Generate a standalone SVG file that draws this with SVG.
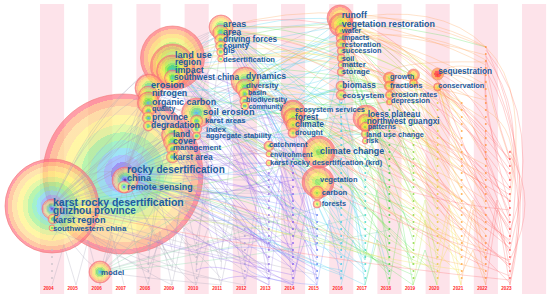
<svg xmlns="http://www.w3.org/2000/svg" width="550" height="298" viewBox="0 0 550 298">
<defs>
<style>
.s{fill:#fde3ea}
.t{font-family:"Liberation Sans",Arial,sans-serif;font-weight:bold;fill:#1d5c9e}
.y{font-family:"Liberation Sans",Arial,sans-serif;font-weight:bold;fill:#ff2a2a;font-size:4.6px;text-anchor:middle}
.n{fill-opacity:.68;stroke:#f07878;stroke-width:.6}
.e path{fill:none;stroke-width:.55;stroke-opacity:.55}
.d line{stroke-linecap:round;stroke-width:2;stroke-dasharray:0 7;stroke-opacity:.85}
</style>
<radialGradient id="gA">
<stop offset="0" stop-color="#4020a0"/><stop offset=".07" stop-color="#4020a0"/>
<stop offset=".07" stop-color="#7060f0"/><stop offset=".15" stop-color="#7060f0"/>
<stop offset=".15" stop-color="#80a8ff"/><stop offset=".24" stop-color="#80a8ff"/>
<stop offset=".24" stop-color="#70d8f0"/><stop offset=".33" stop-color="#70d8f0"/>
<stop offset=".33" stop-color="#78ecb0"/><stop offset=".42" stop-color="#78ecb0"/>
<stop offset=".42" stop-color="#98f088"/><stop offset=".52" stop-color="#98f088"/>
<stop offset=".52" stop-color="#d8f480"/><stop offset=".62" stop-color="#d8f480"/>
<stop offset=".62" stop-color="#fff27c"/><stop offset=".74" stop-color="#fff27c"/>
<stop offset=".74" stop-color="#ffd888"/><stop offset=".85" stop-color="#ffd888"/>
<stop offset=".85" stop-color="#ffb07c"/><stop offset=".94" stop-color="#ffb07c"/>
<stop offset=".94" stop-color="#ff7080"/><stop offset="1" stop-color="#ff7080"/>
</radialGradient>
<radialGradient id="gB">
<stop offset="0" stop-color="#30b0f0"/><stop offset=".1" stop-color="#30b0f0"/>
<stop offset=".1" stop-color="#40d0b0"/><stop offset=".22" stop-color="#40d0b0"/>
<stop offset=".22" stop-color="#60e060"/><stop offset=".36" stop-color="#60e060"/>
<stop offset=".36" stop-color="#b0f050"/><stop offset=".5" stop-color="#b0f050"/>
<stop offset=".5" stop-color="#f0f060"/><stop offset=".63" stop-color="#f0f060"/>
<stop offset=".63" stop-color="#ffd860"/><stop offset=".76" stop-color="#ffd860"/>
<stop offset=".76" stop-color="#ffb070"/><stop offset=".9" stop-color="#ffb070"/>
<stop offset=".9" stop-color="#ff7878"/><stop offset="1" stop-color="#ff7878"/>
</radialGradient>
<radialGradient id="gC">
<stop offset="0" stop-color="#80e040"/><stop offset=".2" stop-color="#80e040"/>
<stop offset=".2" stop-color="#d0f040"/><stop offset=".4" stop-color="#d0f040"/>
<stop offset=".4" stop-color="#ffe050"/><stop offset=".6" stop-color="#ffe050"/>
<stop offset=".6" stop-color="#ffb060"/><stop offset=".82" stop-color="#ffb060"/>
<stop offset=".82" stop-color="#ff7070"/><stop offset="1" stop-color="#ff7070"/>
</radialGradient>
<radialGradient id="gD">
<stop offset="0" stop-color="#c0e840"/><stop offset=".3" stop-color="#c0e840"/>
<stop offset=".3" stop-color="#ffd040"/><stop offset=".65" stop-color="#ffd040"/>
<stop offset=".65" stop-color="#ff9040"/><stop offset="1" stop-color="#ff7050"/>
</radialGradient>
<radialGradient id="gE">
<stop offset="0" stop-color="#ff1010"/><stop offset=".55" stop-color="#ff2020"/>
<stop offset=".55" stop-color="#ff8030"/><stop offset="1" stop-color="#ffb040"/>
</radialGradient>
</defs>

<g id="timeline">
<rect class="s" x="40" y="4" width="24.1" height="290"/>
<rect class="s" x="88.2" y="4" width="24.1" height="290"/>
<rect class="s" x="136.4" y="4" width="24.1" height="290"/>
<rect class="s" x="184.6" y="4" width="24.1" height="290"/>
<rect class="s" x="232.8" y="4" width="24.1" height="290"/>
<rect class="s" x="281" y="4" width="24.1" height="290"/>
<rect class="s" x="329.2" y="4" width="24.1" height="290"/>
<rect class="s" x="377.4" y="4" width="24.1" height="290"/>
<rect class="s" x="425.6" y="4" width="24.1" height="290"/>
<rect class="s" x="473.8" y="4" width="24.1" height="290"/>
<rect class="s" x="522" y="4" width="24.1" height="290"/>
<text class="y" x="48.5" y="289.5">2004</text>
<text class="y" x="72.6" y="289.5">2005</text>
<text class="y" x="96.7" y="289.5">2006</text>
<text class="y" x="120.8" y="289.5">2007</text>
<text class="y" x="144.9" y="289.5">2008</text>
<text class="y" x="169" y="289.5">2009</text>
<text class="y" x="193.1" y="289.5">2010</text>
<text class="y" x="217.2" y="289.5">2011</text>
<text class="y" x="241.3" y="289.5">2012</text>
<text class="y" x="265.4" y="289.5">2013</text>
<text class="y" x="289.5" y="289.5">2014</text>
<text class="y" x="313.6" y="289.5">2015</text>
<text class="y" x="337.7" y="289.5">2016</text>
<text class="y" x="361.8" y="289.5">2017</text>
<text class="y" x="385.9" y="289.5">2018</text>
<text class="y" x="410" y="289.5">2019</text>
<text class="y" x="434.1" y="289.5">2020</text>
<text class="y" x="458.2" y="289.5">2021</text>
<text class="y" x="482.3" y="289.5">2022</text>
<text class="y" x="506.4" y="289.5">2023</text>
</g>

<g id="big-nodes">
<g id="n-rocky-desertification"><circle class="n" cx="123" cy="174" r="80" fill="url(#gA)" fill-opacity=".58" stroke="#f06a80" stroke-width="2.5"/></g>
<g id="n-karst-rocky-desertification"><circle class="n" cx="52" cy="206" r="47" fill="url(#gA)" fill-opacity=".6" stroke="#ff44ff" stroke-width="1.6"/></g>
</g>

<g id="connectors" class="e">
<path stroke="#a8a4b8" d="M52 206Q88 160 124 175M52 206Q90 120 148 92M52 206Q100 90 172 60M52 206Q120 130 196 115M52 206Q120 60 221 28M52 206Q150 110 245 83M52 206Q150 200 269 146M52 206Q70 250 100 272M52 206Q140 250 196 255M52 206Q130 270 221 280M124 175Q128 120 148 92M124 175Q140 90 172 60M124 175Q160 140 196 115M124 175Q160 70 221 28M124 175Q180 100 245 83M124 175Q190 170 269 146M124 175Q200 120 293 115M124 175Q220 150 317 152M124 175Q220 60 341 20M124 175Q250 110 365 120M124 175Q130 240 148 285M124 175Q150 230 172 268M124 175Q170 220 196 258M124 175Q185 240 221 278M124 175Q200 210 245 245M124 175Q210 200 269 225M148 92Q160 75 172 60M148 92Q180 50 221 28M172 60Q200 35 221 28M172 60Q215 65 245 83M148 125Q165 135 172 157M172 157Q185 135 196 115M196 115Q215 95 245 83M196 138Q235 135 269 146M148 285L160 232L172 285M172 285L184 228L196 285M196 285L208 240L221 285M221 285L233 226L245 285M100 272Q150 190 196 115M100 272Q180 245 269 232M148 250L160 200L172 250M172 245L184 195L196 248M196 240L208 190L221 258M221 250L233 205L245 265M148 265Q160 150 172 134M172 270Q185 150 196 129M196 270Q210 120 221 45M221 270Q230 110 245 100M52 210Q100 170 148 104M52 214Q120 160 172 72M124 180Q160 150 221 52M124 187Q170 160 245 94M76 285L88 240L100 285M100 285L112 235L124 285M52 285L64 245L76 285"/>
<path stroke="#a8a4b8" d="M124 175L148 104M124 175L148 111M124 175L148 118M124 175L148 126M124 175L172 135M124 175L172 142M124 175L172 149M124 175L196 121M124 175L196 129M124 175Q170 60 221 33M124 175Q175 80 221 40M124 175Q190 110 245 88M124 175Q195 120 245 101M52 206L148 118M52 206L172 142M52 206Q130 140 196 129M52 206Q140 120 221 46M52 206Q160 150 245 94M52 206L124 187M52 206Q90 190 124 180M100 272L124 187M100 272Q130 220 148 126M100 272Q150 240 172 157M148 92L172 134M148 104L196 113M172 71L196 113M172 71L221 33M172 78L245 81M196 113L221 27M148 88Q190 150 245 229M52 240L76 200L100 250M124 175L148 88M124 175L172 66M124 175L196 136M124 175L172 157M52 206L148 96M52 206L172 135M52 206L196 121"/>
<path stroke="#a8a4b8" d="M52 206Q120 260 172 285M52 206Q150 270 245 285M124 175Q170 270 196 285M124 175Q220 260 269 285M52 230Q110 250 148 270M100 272Q160 280 221 285M148 270L160 240L172 262M196 262L208 228L221 262M124 180Q200 190 269 200M124 180Q210 215 269 275M124 180Q220 200 293 190M124 180Q230 230 293 250M124 180Q250 240 317 262M124 180Q260 220 341 240M52 206Q180 230 293 215M52 206Q200 250 317 275M124 175Q160 160 196 150M124 175Q180 180 245 180M124 175Q200 190 269 192"/>
<path stroke="#78d8a0" d="M100 272Q200 220 293 160M100 272Q220 240 341 200M100 272Q250 260 389 230M100 272Q180 200 269 180M100 272Q230 250 365 215"/>
<path stroke="#a88ce8" d="M245 83Q270 95 293 115M221 28Q260 60 293 115M172 60Q240 85 293 118M148 92Q220 105 293 125M196 115Q235 125 269 146M124 175Q200 150 269 154M52 206Q160 165 269 163M245 285L257 218L269 285M245 265L257 200L269 270M269 285L281 196L293 285M52 206Q170 250 269 265M124 175Q215 230 293 268M124 175Q200 255 293 282M148 92Q230 170 269 200M172 60Q240 150 269 185M196 115Q250 190 293 230M221 28Q270 140 293 180M245 83Q280 170 293 200M172 72Q230 120 269 176M196 121Q240 170 269 210M148 110Q210 200 269 248M293 112Q250 60 221 33M293 118Q240 80 172 66M293 125Q220 90 148 96M293 133Q240 140 172 135M269 146Q220 90 172 78M269 154Q200 130 148 118M269 163Q200 160 124 180M293 112Q260 40 221 27M317 152Q250 90 172 71M317 182Q260 130 196 121M317 193Q230 170 148 126M245 250L257 240L269 262"/>
<path stroke="#8658f0" d="M293 285L305 215L317 280M269 250L281 175L293 255M293 240L305 190L317 250M293 270Q220 190 124 175M293 260Q200 200 124 178M293 250Q180 160 148 92M293 230Q240 110 172 60M293 220Q260 140 196 115M293 200Q270 100 221 28M269 270Q200 220 124 180M269 240Q190 170 148 110M269 220Q220 120 172 70M293 180Q200 200 52 206M293 275Q170 250 52 210M317 270Q230 220 124 175M317 260Q250 150 196 115M317 250Q280 120 245 83M317 240Q260 70 221 28M269 200L281 160L293 200M293 160Q300 140 293 125M293 210Q250 180 196 136M293 190Q250 160 172 142M269 180Q230 200 172 157M293 245Q240 230 196 250"/>
<path stroke="#8658f0" d="M269 280Q190 210 148 92M269 260Q200 160 172 60M269 250Q230 140 221 28M269 230Q240 150 196 115M293 285Q180 220 52 206M293 265Q210 160 148 104M293 255Q230 120 172 71M293 235Q230 190 124 187M293 215Q270 120 245 83M293 205Q200 150 148 118M269 195Q200 170 124 175M269 175L281 150L293 170M293 275L305 240L317 285M269 285Q220 260 196 270M293 285Q250 270 221 280"/>
<path stroke="#6f88ff" d="M317 285Q230 200 124 175M317 230Q220 100 172 60M317 220Q300 140 293 115M341 280L329 220L317 285M317 152Q270 110 245 83M317 152Q250 60 221 28M317 180Q220 170 124 175M317 180Q240 120 196 115M317 152Q200 110 148 92M317 265Q260 240 221 250M317 245Q290 200 269 163M317 275Q230 230 148 118M317 255Q230 130 172 60M317 235Q280 110 221 40M317 215Q250 190 124 187M317 225Q300 170 293 133M317 285Q250 280 245 265"/>
<path stroke="#48cfef" d="M341 20Q280 30 221 28M341 26Q260 40 172 60M341 33Q280 60 245 83M341 40Q260 80 196 115M341 46Q220 100 148 92M341 53Q250 110 124 175M341 60Q320 80 293 115M341 67Q330 110 317 152M341 74Q240 110 172 80M341 88Q300 100 293 118M341 97Q330 130 317 180M341 280L353 200L365 285M341 250L353 190L365 260M341 230Q240 190 124 175M341 200Q260 140 196 115M341 180Q280 100 245 83M341 160Q250 60 221 28M341 140Q300 130 293 125M365 285Q250 230 124 178M365 260Q300 160 245 83M365 240Q290 150 196 120M365 220Q330 140 293 115M365 200Q340 160 317 152M365 120Q350 70 341 26M365 180L377 150L389 200M341 120L353 150L365 180M52 206Q200 180 341 150M124 175Q240 110 341 88M341 270Q280 260 269 240M365 270Q330 240 317 204M341 210Q320 200 317 193M341 110Q280 90 245 101"/>
<path stroke="#48cfef" d="M341 275Q230 240 148 92M341 265Q250 170 172 60M341 255Q280 120 221 28M341 245Q300 150 245 88M341 235Q300 140 269 146M341 225Q320 140 293 112M341 215Q330 180 317 152M341 190Q250 200 52 206M341 170Q260 120 172 71M341 150Q300 90 245 81M341 130Q280 60 221 33M365 275Q280 200 172 60M365 265Q260 220 124 175M365 250Q330 120 341 20M365 230Q300 100 221 28M365 210Q330 130 293 118M365 190Q340 110 341 46M365 170Q350 140 341 95M365 160L377 130L389 170M341 285L353 240L365 270M365 285L377 230L389 275"/>
<path stroke="#48cfef" d="M341 20Q300 50 245 94M341 26Q290 70 245 101M341 33Q260 60 196 121M341 40Q250 60 172 66M341 46Q300 90 269 146M341 53Q260 80 221 46M341 60Q280 40 221 40M341 67Q270 80 245 88M341 74Q280 120 196 129M341 86Q260 120 172 142M341 95Q250 90 196 113M341 20Q260 10 172 58M365 118Q300 80 245 83M365 122Q270 60 221 27M365 127Q300 120 245 106M365 134Q280 140 196 136"/>
<path stroke="#58e058" d="M389 78Q360 50 341 26M389 86Q300 70 245 83M389 95Q280 120 196 115M389 101Q250 140 124 175M389 285L401 215L413 285M389 260L377 190L365 260M389 240Q300 150 172 60M389 220Q320 110 221 28M389 200Q340 130 293 115M389 180Q350 150 317 152M389 160Q370 110 341 46M389 140Q380 125 365 120M413 285Q300 200 124 175M413 260Q340 170 245 83M413 240Q380 140 341 33M413 220Q350 170 293 125M413 200Q390 140 365 122M413 75Q380 40 341 20M413 180L401 140L389 160M389 120Q300 180 52 206M413 150Q250 100 148 92M389 270Q360 250 341 230M389 250Q350 220 317 182M389 78Q300 30 221 33M389 86Q280 60 172 71M389 95Q320 80 293 112M389 102Q300 110 245 94M413 75Q300 20 221 27M413 83Q330 90 293 125"/>
<path stroke="#58e058" d="M389 275Q300 180 172 60M389 265Q280 220 124 175M389 255Q330 120 245 83M389 245Q350 90 341 20M389 230Q330 160 293 118M389 210Q370 140 365 118M389 190Q330 90 221 28M389 170Q320 120 245 88M389 150Q340 110 317 152M389 130Q360 110 341 86M413 275Q300 230 148 92M413 265Q370 150 341 26M413 250Q330 170 269 146M413 230Q360 130 293 112M413 210Q300 170 196 115M413 190Q370 120 341 60M413 170Q400 130 389 95M413 160Q380 140 365 127M413 140Q390 100 389 78M413 130Q350 80 245 83M413 110Q400 90 389 86M389 285L377 240L365 285M413 285L425 250L437 285M172 60Q320 -5 485.8 47"/>
<path stroke="#b8e848" d="M413 120Q370 90 341 60M413 100Q340 70 221 28M413 90Q300 40 172 60M437 285L425 220L413 285M437 260L425 200L413 250M437 240Q350 180 196 115M437 220Q380 120 341 26M437 200Q360 140 293 118M437 180Q400 140 365 120M437 160Q410 110 389 86M413 270Q300 220 52 210M245 83Q360 10 437 75M437 270Q390 250 365 240M437 275Q330 180 221 28M437 265Q340 220 172 71M437 250Q400 160 365 118M437 230Q380 140 317 152M437 210Q400 110 389 78M437 190Q360 80 341 40M437 170Q420 130 413 75M437 150Q360 120 293 118M437 130Q420 100 413 83M437 110Q400 60 341 20M437 100Q420 90 389 95"/>
<path stroke="#f0e048" d="M437 75Q400 40 341 20M437 87Q400 92 389 95M461 285L449 215L437 285M461 260L449 205L437 255M461 240Q370 160 245 83M461 220Q400 120 341 40M461 200Q380 150 293 115M461 180Q420 120 365 120M461 160Q440 100 437 75M461 140Q350 40 221 28M461 120Q420 60 389 78M461 270Q300 250 124 178M437 120Q330 20 172 60M461 110Q380 30 341 26M172 60Q330 0 461 110M461 250Q420 220 389 200M461 275Q380 200 317 152M461 265Q360 150 341 26M461 255Q380 180 293 115M461 245Q320 140 221 28M461 230Q420 150 389 86M461 210Q420 110 341 60M461 190Q440 130 413 75M461 170Q380 100 245 83M461 150Q420 130 389 101M461 130Q440 100 437 87M461 285L449 245L437 270M461 102Q420 50 341 20M148 92Q300 10 461 102"/>
<path stroke="#ffa050" d="M485.8 47Q420 10 341 20M485.8 55Q360 20 221 28M485.8 62Q380 60 389 78M485.8 70Q450 60 437 75M485.8 285L473 210L461 285M485.8 260L473 200L461 250M485.8 240Q380 150 245 83M485.8 220Q400 110 341 26M485.8 200Q400 140 317 152M485.8 180Q420 120 365 120M485.8 160Q450 100 437 87M485.8 140Q430 80 389 86M485.8 120Q370 40 172 60M485.8 100Q400 80 341 60M485.8 90Q460 70 437 75M485.8 270Q350 240 124 175M485.8 250Q300 180 196 115M461 230Q360 180 293 125M461 200Q340 100 245 83M485.8 80L497 120L509.9 160M485.8 110Q520 130 509.9 180M485.8 47Q530 90 509.9 200M221 28Q350 -10 485.8 47M485.8 230Q440 200 413 160M485.8 190Q460 160 437 120M245 83Q380 0 485.8 60M341 20Q440 0 485.8 47"/>
<path stroke="#ffa050" d="M485.8 275Q400 160 341 26M485.8 265Q380 200 293 118M485.8 255Q400 150 365 120M485.8 245Q430 150 413 75M485.8 235Q380 90 221 28M485.8 225Q430 140 389 78M485.8 215Q350 130 245 83M485.8 205Q440 110 437 74M485.8 195Q380 80 341 40M485.8 185Q440 160 413 130M485.8 175Q420 140 389 120M485.8 165Q360 100 317 152M485.8 150Q440 60 341 20M485.8 130Q450 90 413 83M485.8 110Q450 80 437 87M485.8 100Q420 50 341 26M485.8 85Q410 40 341 33M485.8 75Q450 70 437 74M485.8 65Q420 30 341 20M485.8 285L473 250L461 275"/>
<path stroke="#ff6a6a" d="M509.9 285L497 210L485.8 285M509.9 270L497 200L485.8 260M509.9 250Q420 120 341 26M509.9 240Q400 160 245 83M509.9 230Q440 130 389 78M509.9 220Q470 100 437 75M509.9 210Q400 200 317 152M509.9 200Q430 150 365 120M509.9 190Q350 60 221 28M509.9 180Q480 120 485.8 70M509.9 170Q400 20 341 20M509.9 160Q450 90 413 75M509.9 260Q360 220 148 92M509.9 280Q300 260 52 206M509.9 155Q540 200 509.9 260M485.8 50Q545 120 509.9 250M485.8 60Q540 170 509.9 275M509.9 150Q530 180 509.9 230M509.9 265Q460 230 437 200M509.9 245Q470 200 461 160M509.9 225Q480 170 485.8 130M221 28Q380 -15 509.9 160"/>
<path stroke="#ff6a6a" d="M509.9 283Q420 200 341 26M509.9 276Q380 230 245 83M509.9 268Q440 200 389 78M509.9 262Q420 210 365 120M509.9 255Q460 140 437 74M509.9 248Q420 170 317 152M509.9 242Q380 120 293 115M509.9 235Q430 60 341 20M509.9 228Q470 170 413 75M509.9 222Q450 140 389 86M509.9 215Q480 140 461 120M509.9 208Q480 100 485.8 62M509.9 202Q420 90 341 46M509.9 195Q450 160 437 87M509.9 188Q460 110 413 83M509.9 175Q420 60 221 28M509.9 165Q470 80 437 74M509.9 158Q490 100 485.8 55M485.8 47Q535 150 509.9 285M485.8 56Q525 110 509.9 190M485.8 70Q528 140 509.9 240M509.9 160Q528 210 509.9 285"/>
</g>

<g id="minor-nodes" class="d">
<line x1="52" y1="250" x2="52" y2="285" stroke="#c8c0c8"/>
<line x1="148.4" y1="236" x2="148.4" y2="285" stroke="#c0b8c8"/>
<line x1="196.6" y1="236" x2="196.6" y2="285" stroke="#c0b8c8"/>
<line x1="244.8" y1="229" x2="244.8" y2="285" stroke="#b0a0d8"/>
<line x1="268.9" y1="173" x2="268.9" y2="285" stroke="#9070e0"/>
<line x1="293" y1="145" x2="293" y2="285" stroke="#7f58f0"/>
<line x1="317.1" y1="215" x2="317.1" y2="285" stroke="#6080f0"/>
<line x1="341.2" y1="103" x2="341.2" y2="285" stroke="#40c8e8"/>
<line x1="365.3" y1="152" x2="365.3" y2="285" stroke="#40d8c8"/>
<line x1="389.4" y1="110" x2="389.4" y2="285" stroke="#40d040"/>
<line x1="413.5" y1="96" x2="413.5" y2="285" stroke="#88d840"/>
<line x1="437.6" y1="103" x2="437.6" y2="285" stroke="#e8c840"/>
<line x1="461.7" y1="103" x2="461.7" y2="285" stroke="#ffa840"/>
<line x1="485.8" y1="47" x2="485.8" y2="285" stroke="#ff9040"/>
<line x1="509.9" y1="152" x2="509.9" y2="285" stroke="#ff5050"/>
</g>

<g id="nodes">
<g id="n-guizhou-province"><circle class="n" cx="52" cy="209" r="10" fill="url(#gA)" fill-opacity=".5"/></g>
<g id="n-karst-region"><circle class="n" cx="53" cy="219" r="5" fill="url(#gB)"/></g>
<g id="n-southwestern-china"><circle class="n" cx="52" cy="228" r="3" fill="url(#gB)"/></g>
<g id="n-china"><circle class="n" cx="125" cy="180" r="13" fill="url(#gA)" stroke="#c07050" stroke-width="1.3"/></g>
<g id="n-remote-sensing"><circle class="n" cx="124" cy="187" r="6" fill="url(#gA)" stroke="#c07050"/></g>
<g id="n-model"><circle class="n" cx="100" cy="272" r="11" fill="url(#gB)" stroke="#e08050" stroke-width="1"/></g>
<g id="n-land-use"><circle class="n" cx="172.5" cy="58" r="32" fill="url(#gB)" fill-opacity=".58"/></g>
<g id="n-region"><circle class="n" cx="172.5" cy="66" r="22" fill="url(#gB)" fill-opacity=".6"/></g>
<g id="n-impact"><circle class="n" cx="172.5" cy="71" r="16" fill="url(#gB)" fill-opacity=".62"/></g>
<g id="n-southwest-china"><circle class="n" cx="172.5" cy="78" r="8" fill="url(#gB)"/></g>
<g id="n-erosion"><circle class="n" cx="149" cy="88" r="14" fill="url(#gB)"/></g>
<g id="n-nitrogen"><circle class="n" cx="148.4" cy="96" r="10" fill="url(#gB)"/></g>
<g id="n-organic-carbon"><circle class="n" cx="148.4" cy="103" r="11" fill="url(#gB)"/></g>
<g id="n-quality"><circle class="n" cx="148.4" cy="111" r="6" fill="url(#gB)"/></g>
<g id="n-province"><circle class="n" cx="148.4" cy="118" r="6" fill="url(#gB)"/></g>
<g id="n-degradation"><circle class="n" cx="148.4" cy="126" r="5" fill="url(#gB)"/></g>
<g id="n-land"><circle class="n" cx="172.5" cy="135" r="11" fill="url(#gB)"/></g>
<g id="n-cover"><circle class="n" cx="172.5" cy="142" r="9" fill="url(#gB)"/></g>
<g id="n-management"><circle class="n" cx="172.5" cy="149" r="6" fill="url(#gB)"/></g>
<g id="n-karst-area"><circle class="n" cx="172.5" cy="157" r="6" fill="url(#gB)"/></g>
<g id="n-soil-erosion"><circle class="n" cx="196.6" cy="113" r="15" fill="url(#gB)"/></g>
<g id="n-karst-areas"><circle class="n" cx="196.6" cy="121" r="6" fill="url(#gB)"/></g>
<g id="n-index"><circle class="n" cx="196.6" cy="129" r="5" fill="url(#gB)"/></g>
<g id="n-aggregate-stability"><circle class="n" cx="196.6" cy="136" r="4" fill="url(#gB)"/></g>
<g id="n-areas"><circle class="n" cx="221" cy="27" r="12" fill="url(#gB)"/></g>
<g id="n-area"><circle class="n" cx="220.7" cy="33" r="8" fill="url(#gB)"/></g>
<g id="n-driving-forces"><circle class="n" cx="220.7" cy="40" r="6" fill="url(#gB)"/></g>
<g id="n-county"><circle class="n" cx="220.7" cy="46" r="5" fill="url(#gB)"/></g>
<g id="n-gis"><circle class="n" cx="220.7" cy="52" r="4" fill="url(#gB)"/></g>
<g id="n-desertification"><circle class="n" cx="220.7" cy="59" r="3" fill="url(#gB)"/></g>
<g id="n-dynamics"><circle class="n" cx="245" cy="81" r="14" fill="url(#gB)"/></g>
<g id="n-diversity"><circle class="n" cx="244.8" cy="88" r="9" fill="url(#gB)"/></g>
<g id="n-basin"><circle class="n" cx="244.8" cy="94" r="6" fill="url(#gB)"/></g>
<g id="n-biodiversity"><circle class="n" cx="244.8" cy="101" r="5" fill="url(#gB)"/></g>
<g id="n-community"><circle class="n" cx="244.8" cy="106" r="4" fill="url(#gB)"/></g>
<g id="n-catchment"><circle class="n" cx="268.9" cy="146" r="5" fill="url(#gC)"/></g>
<g id="n-environment"><circle class="n" cx="268.9" cy="154" r="3" fill="url(#gC)"/></g>
<g id="n-krd"><circle class="n" cx="268.9" cy="163" r="3" fill="url(#gC)"/></g>
<g id="n-ecosystem-services"><circle class="n" cx="293" cy="112" r="12" fill="url(#gC)"/></g>
<g id="n-forest"><circle class="n" cx="293" cy="118" r="10" fill="url(#gC)"/></g>
<g id="n-climate"><circle class="n" cx="293" cy="125" r="7" fill="url(#gC)"/></g>
<g id="n-drought"><circle class="n" cx="293" cy="133" r="5" fill="url(#gC)"/></g>
<g id="n-climate-change"><circle class="n" cx="319" cy="152" r="16" fill="url(#gC)"/></g>
<g id="n-vegetation"><circle class="n" cx="318" cy="182" r="16" fill="url(#gC)"/></g>
<g id="n-carbon"><circle class="n" cx="317.1" cy="193" r="7" fill="url(#gC)"/></g>
<g id="n-forests"><circle class="n" cx="317.1" cy="204" r="4" fill="url(#gC)"/></g>
<g id="n-runoff"><circle class="n" cx="340" cy="18" r="13" fill="url(#gC)"/></g>
<g id="n-vegetation-restoration"><circle class="n" cx="341.2" cy="25" r="12" fill="url(#gC)"/></g>
<g id="n-water"><circle class="n" cx="341.2" cy="31" r="6" fill="url(#gC)"/></g>
<g id="n-impacts"><circle class="n" cx="341.2" cy="38" r="5" fill="url(#gC)"/></g>
<g id="n-restoration"><circle class="n" cx="341.2" cy="44" r="5" fill="url(#gC)"/></g>
<g id="n-succession"><circle class="n" cx="341.2" cy="51" r="4" fill="url(#gC)"/></g>
<g id="n-soil"><circle class="n" cx="341.2" cy="58" r="4" fill="url(#gC)"/></g>
<g id="n-matter"><circle class="n" cx="341.2" cy="65" r="3" fill="url(#gC)"/></g>
<g id="n-storage"><circle class="n" cx="341.2" cy="72" r="4" fill="url(#gC)"/></g>
<g id="n-biomass"><circle class="n" cx="341.2" cy="86" r="5" fill="url(#gC)"/></g>
<g id="n-ecosystem"><circle class="n" cx="341.2" cy="95" r="5" fill="url(#gC)"/></g>
<g id="n-loess-plateau"><circle class="n" cx="366" cy="118" r="13" fill="url(#gC)"/></g>
<g id="n-northwest-guangxi"><circle class="n" cx="365.3" cy="122" r="8" fill="url(#gC)"/></g>
<g id="n-patterns"><circle class="n" cx="365.3" cy="127" r="5" fill="url(#gC)"/></g>
<g id="n-land-use-change"><circle class="n" cx="365.3" cy="134" r="4" fill="url(#gC)"/></g>
<g id="n-risk"><circle class="n" cx="365.3" cy="141" r="3" fill="url(#gC)"/></g>
<g id="n-unlabeled-2019"><circle class="n" cx="413.5" cy="75" r="6" fill="url(#gD)"/><circle class="n" cx="413.5" cy="83" r="4" fill="url(#gD)"/></g>
<g id="n-growth"><circle class="n" cx="389.4" cy="78" r="6" fill="url(#gD)"/></g>
<g id="n-fractions"><circle class="n" cx="389.4" cy="86" r="5" fill="url(#gD)"/></g>
<g id="n-erosion-rates"><circle class="n" cx="389.4" cy="95" r="4" fill="url(#gD)"/></g>
<g id="n-depression"><circle class="n" cx="389.4" cy="102" r="3" fill="url(#gD)"/></g>
<g id="n-sequestration"><circle class="n" cx="437.6" cy="74" r="6" fill="url(#gE)" fill-opacity=".9"/></g>
<g id="n-conservation"><circle class="n" cx="437.6" cy="87" r="4" fill="url(#gD)"/></g>
</g>

<g id="labels" class="t">
<text x="53" y="206" font-size="10.5">karst rocky desertification</text>
<text x="53" y="214" font-size="10">guizhou province</text>
<text x="53" y="223" font-size="9.2">karst region</text>
<text x="53" y="230.5" font-size="7.8">southwestern china</text>
<text x="127" y="173" font-size="10">rocky desertification</text>
<text x="127" y="181" font-size="9.2">china</text>
<text x="127" y="189.5" font-size="8.9">remote sensing</text>
<text x="101" y="275" font-size="7.9">model</text>
<text x="175" y="57.5" font-size="9.1">land use</text>
<text x="175" y="64.5" font-size="8.6">region</text>
<text x="175" y="72.5" font-size="8.9">impact</text>
<text x="174" y="80" font-size="8.3">southwest china</text>
<text x="151" y="87.5" font-size="9.2">erosion</text>
<text x="152" y="96" font-size="8.8">nitrogen</text>
<text x="152" y="104.5" font-size="8.9">organic carbon</text>
<text x="152" y="111" font-size="7.2">quality</text>
<text x="152" y="119.5" font-size="8.6">province</text>
<text x="151" y="127.5" font-size="8.5">degradation</text>
<text x="173" y="136.5" font-size="8.3">land</text>
<text x="173" y="143.5" font-size="8.7">cover</text>
<text x="173" y="150" font-size="7.8">management</text>
<text x="173" y="159.5" font-size="8.4">karst area</text>
<text x="203" y="115" font-size="9.2">soil erosion</text>
<text x="205" y="122.7" font-size="7.7">karst areas</text>
<text x="206" y="131.5" font-size="7.7">index</text>
<text x="206" y="138.3" font-size="7.4">aggregate stability</text>
<text x="223" y="27.3" font-size="8.9">areas</text>
<text x="223" y="35" font-size="8.9">area</text>
<text x="223" y="42.3" font-size="8.2">driving forces</text>
<text x="223" y="47.7" font-size="7.9">county</text>
<text x="223" y="53.3" font-size="8.3">gis</text>
<text x="223" y="61.7" font-size="7.6">desertification</text>
<text x="246" y="79" font-size="8.7">dynamics</text>
<text x="246" y="87.5" font-size="7.9">diversity</text>
<text x="248" y="94.5" font-size="7">basin</text>
<text x="246" y="101.8" font-size="7.3">biodiversity</text>
<text x="248.7" y="108.5" font-size="6.4">community</text>
<text x="269" y="146.7" font-size="7.7">catchment</text>
<text x="270" y="156.7" font-size="7.1">environment</text>
<text x="270" y="165" font-size="7.5">karst rocky desertification (krd)</text>
<text x="295" y="112.3" font-size="7.4">ecosystem services</text>
<text x="295" y="119.5" font-size="8.4">forest</text>
<text x="295" y="127.3" font-size="8.4">climate</text>
<text x="295" y="135" font-size="7.3">drought</text>
<text x="320" y="154" font-size="8.9">climate change</text>
<text x="320" y="181.7" font-size="7.5">vegetation</text>
<text x="321.7" y="195" font-size="7.7">carbon</text>
<text x="321.7" y="206" font-size="7.3">forests</text>
<text x="341.7" y="17.7" font-size="8.7">runoff</text>
<text x="341.7" y="26.7" font-size="8.9">vegetation restoration</text>
<text x="341.7" y="33.3" font-size="7.5">water</text>
<text x="341.7" y="40" font-size="7.3">impacts</text>
<text x="341.7" y="46.7" font-size="7.5">restoration</text>
<text x="341.7" y="53.3" font-size="7.3">succession</text>
<text x="341.7" y="60.7" font-size="7.4">soil</text>
<text x="341.7" y="67.3" font-size="7.9">matter</text>
<text x="341.7" y="74" font-size="7.8">storage</text>
<text x="342.3" y="88.3" font-size="8.3">biomass</text>
<text x="342.3" y="97.7" font-size="8.1">ecosystem</text>
<text x="367.7" y="116.7" font-size="8.3">loess plateau</text>
<text x="366.7" y="124" font-size="8.2">northwest guangxi</text>
<text x="367.7" y="128.8" font-size="7.2">patterns</text>
<text x="366" y="136.7" font-size="7.4">land use change</text>
<text x="366" y="143" font-size="6.9">risk</text>
<text x="390" y="79.3" font-size="7.3">growth</text>
<text x="390" y="88.3" font-size="7.7">fractions</text>
<text x="391" y="96.7" font-size="7.4">erosion rates</text>
<text x="391" y="103.3" font-size="7.3">depression</text>
<text x="438.3" y="74.3" font-size="8.2">sequestration</text>
<text x="438.3" y="88.3" font-size="7.4">conservation</text>
</g>
</svg>
